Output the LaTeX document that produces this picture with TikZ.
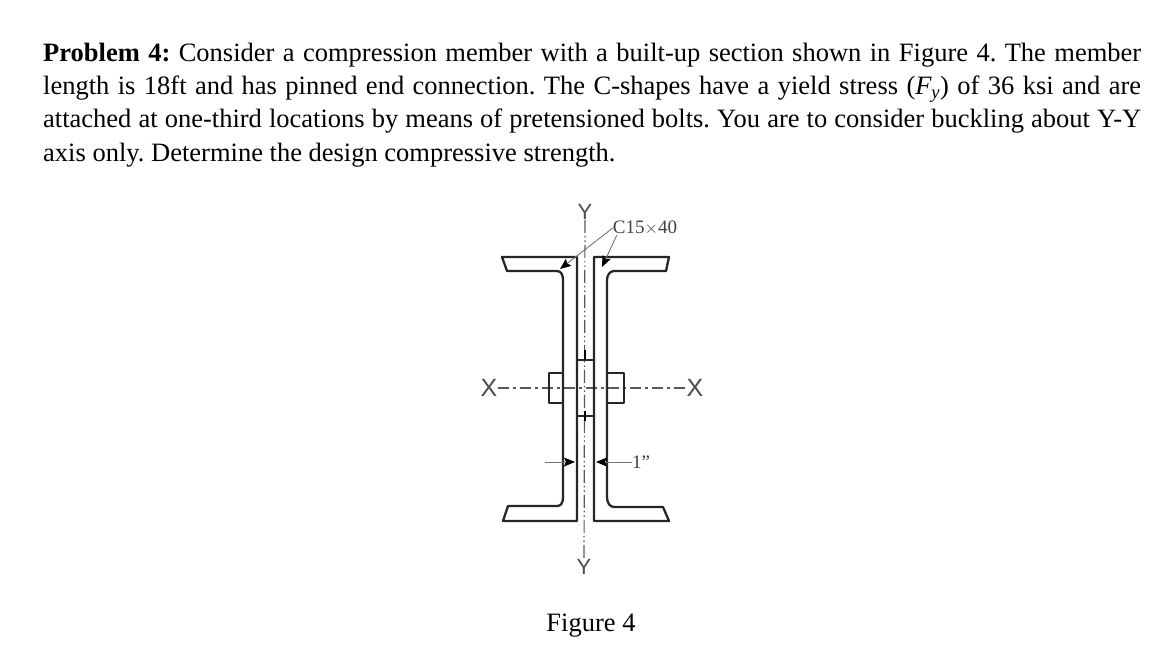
\documentclass[tikz,border=0pt]{standalone}
\usepackage{fontspec}
\setmainfont{Liberation Serif}
\newfontfamily\axisfont{Liberation Sans}
\usetikzlibrary{arrows.meta}
\begin{document}
\frenchspacing
\begin{tikzpicture}[x=1pt,y=-1pt,
    SectionLine/.style = {line width=2.3pt,black!85,line join=round},
    AxisLine/.style = {line width=1.2pt,black!65},
    LeaderLine/.style = {line width=.9pt,black!55,-{Stealth[black,length=11pt,width=9pt,inset=2pt]}},
    AxisLabel/.style = {font=\axisfont\fontsize{22}{22}\selectfont,text=black!70,inner sep=0pt},
    SmallLabel/.style = {font=\fontsize{19}{20}\selectfont,text=black!75,inner sep=0pt}]
  \useasboundingbox (0,0) rectangle (1175,656);
  % problem text
  \node[name=problem,anchor=north west,inner sep=0pt,text width=1098pt,align=justify,
        font=\fontsize{26.5}{33.2}\selectfont] at (43,43)
    {\textbf{Problem 4:} Consider a compression member with a built-up section shown in Figure 4. The member\linebreak
     length is 18ft and has pinned end connection. The C-shapes have a yield stress (\textit{F\textsubscript{y}}) of 36 ksi and are\linebreak
     attached at one-third locations by means of pretensioned bolts. You are to consider buckling about Y-Y\linebreak
     axis only. Determine the design compressive strength.};
  % axes
  \node[AxisLabel,name=yTop] at (585,212) {Y};
  \node[AxisLabel,name=yBot] at (584,567) {Y};
  \node[AxisLabel,name=xLeft,font=\axisfont\fontsize{25}{25}\selectfont] at (489,388) {X};
  \node[AxisLabel,name=xRight,font=\axisfont\fontsize{25}{25}\selectfont] at (695,388) {X};
  \draw[AxisLine,dash pattern=on 13pt off 3pt on 1.5pt off 3pt on 1.5pt off 3pt] (yTop) -- (yBot);
  \draw[AxisLine,dash pattern=on 11pt off 4pt on 3pt off 4pt] (xLeft) -- (xRight);
  % channels
  \draw[SectionLine] (577,257) -- (502,257) -- (507,271) -- (557,271)
    .. controls (561,271) and (563,275) .. (563,280) -- (563,497)
    .. controls (563,503) and (561,506) .. (557,506) -- (508,506) -- (503,521) -- (577,521) -- cycle;
  \draw[SectionLine] (594,257) -- (669,257) -- (666,271) -- (614,271)
    .. controls (610,271) and (607,275) .. (607,280) -- (607,497)
    .. controls (607,503) and (610,507) .. (614,507) -- (663,507) -- (669,521) -- (594,521) -- cycle;
  % bolt heads and filler plates
  \draw[SectionLine] (563,373) -- (549,373) -- (549,403) -- (563,403);
  \draw[SectionLine] (607,373) -- (624,373) -- (624,403) -- (607,403);
  \draw[SectionLine,line width=1.8pt] (577,360) -- (594,360);
  \draw[SectionLine,line width=1.8pt] (577,416) -- (594,416);
  \foreach \tickY in {350,411}
    \draw[AxisLine,black] (585,\tickY) -- (585,\tickY+10);
  % labels and arrows
  \node[SmallLabel,name=sizeLabel] at (645,228) {C15$\times$40};
  \node[SmallLabel,name=gapLabel,anchor=west] at (632,462) {1”};
  \coordinate (leadA) at (560,269);
  \coordinate (leadB) at (602,267);
  \coordinate (gapLeftStart) at (545,462);
  \coordinate (gapLeftEnd) at (575,462);
  \coordinate (gapRightEnd) at (596,462);
  \draw[LeaderLine] (sizeLabel.west) -- (leadA);
  \draw[LeaderLine] (sizeLabel.south west) ++(4,0) -- (leadB);
  \draw[LeaderLine] (gapLeftStart) -- (gapLeftEnd);
  \draw[LeaderLine] (gapLabel.west) -- (gapRightEnd);
  \node[name=caption,inner sep=0pt,font=\fontsize{26.5}{30}\selectfont] at (591,626) {Figure 4};
\end{tikzpicture}
\end{document}
